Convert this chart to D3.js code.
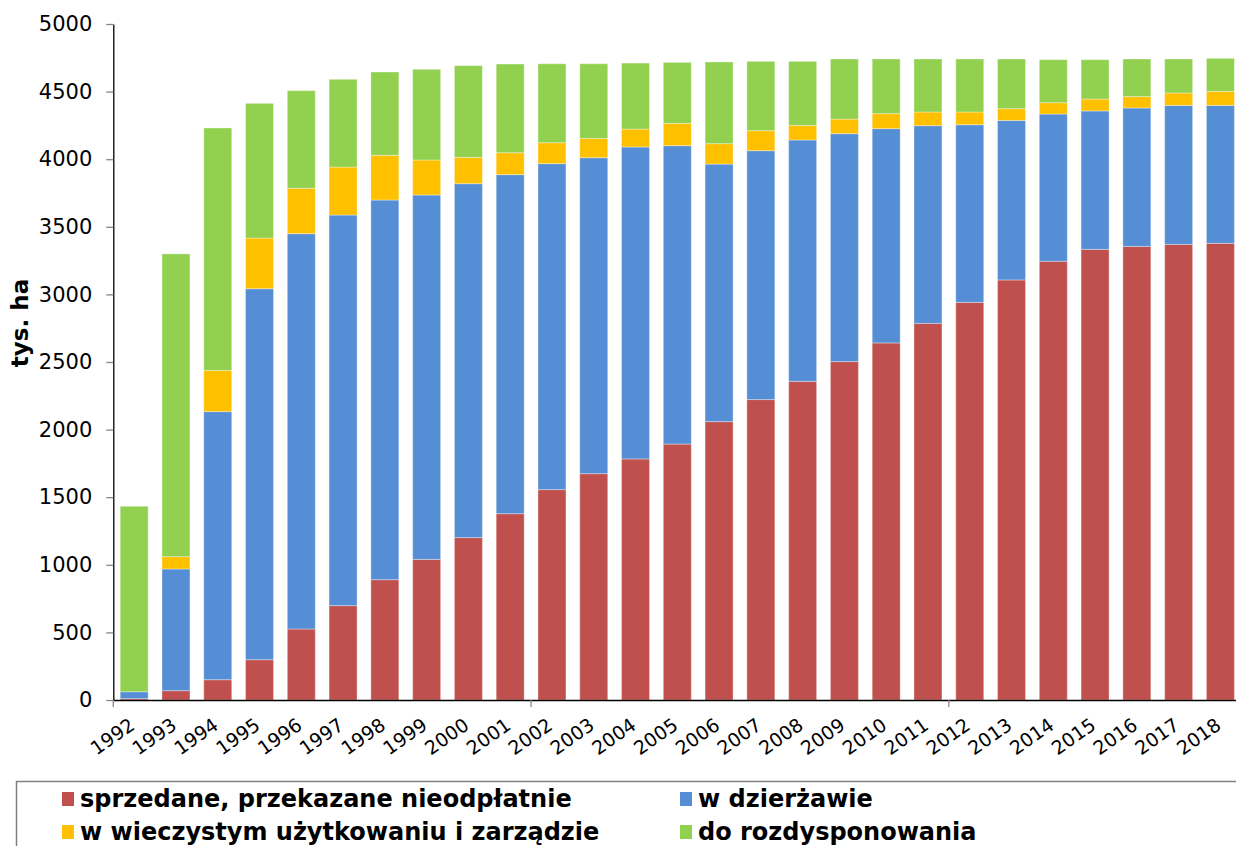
<!DOCTYPE html>
<html>
<head>
<meta charset="utf-8">
<script src="https://cdn.jsdelivr.net/npm/d3@7"></script>
<style>
    body { margin: 0; background: #fff; }
    svg { display: block; font-family: "DejaVu Sans", Verdana, sans-serif; }
</style>
</head>
<body>
<div id="chart"></div>
<script>
// dane (tys. ha)
const years = ["1992", "1993", "1994", "1995", "1996", "1997", "1998", "1999", "2000", "2001", "2002", "2003", "2004",
    "2005", "2006", "2007", "2008", "2009", "2010", "2011", "2012", "2013", "2014", "2015", "2016", "2017", "2018"];
const sold = [10, 69, 150, 298, 525, 698, 890, 1040, 1201, 1378, 1556, 1674, 1783, 1893, 2059, 2222, 2357, 2503, 2641,
    2786, 2941, 3107, 3245, 3333, 3355, 3370, 3378];
const lease = [51, 900, 1983, 2744, 2924, 2889, 2808, 2695, 2618, 2508, 2411, 2337, 2307, 2207, 1905, 1841, 1785, 1686,
    1585, 1462, 1314, 1180, 1089, 1024, 1024, 1028, 1020];
const perpetual = [0, 91, 305, 375, 336, 355, 331, 259, 195, 162, 155, 143, 133, 165, 151, 148, 108, 108, 111, 101, 94,
    87, 84, 88, 84, 92, 104];
const toDispose = [1372, 2240, 1793, 996, 722, 649, 616, 671, 678, 656, 584, 552, 488, 451, 604, 513, 474, 444, 404, 392,
    392, 367, 318, 291, 278, 251, 244];
const seriesNames = ["sprzedane, przekazane nieodpłatnie", "w dzierżawie", "w wieczystym użytkowaniu i zarządzie", "do rozdysponowania"];
const yTicks = [0, 500, 1000, 1500, 2000, 2500, 3000, 3500, 4000, 4500, 5000];
const yTitle = "tys. ha";

var width = 1236;
var height = 846;
const colors = ["#C0504D", "#558ED5", "#FFC000", "#92D050"];
const keys = ["sold", "lease", "perpetual", "toDispose"];

const table = years.map(function (y, i) {
    return { year: y, sold: sold[i], lease: lease[i], perpetual: perpetual[i], toDispose: toDispose[i] };
});

const svg = d3.select("#chart")
    .append("svg")
    .attr("width", width)
    .attr("height", height)
    .style("background-color", "rgb(255,255,255)");

const x = d3.scaleBand()
    .domain(years)
    .range([113.3, 1241.3])
    .paddingInner(0.33)
    .paddingOuter(0.165);

const y = d3.scaleLinear()
    .domain([0, 5000])
    .range([700, 24]);

const stacked = d3.stack().keys(keys)(table);

// słupki
svg.selectAll("g.layer")
    .data(stacked)
    .enter()
    .append("g")
    .attr("class", "layer")
    .attr("fill", function (d, i) { return colors[i]; })
    .selectAll("rect")
    .data(function (d) { return d; })
    .enter()
    .append("rect")
    .attr("x", function (d) { return x(d.data.year); })
    .attr("y", function (d) { return y(d[1]); })
    .attr("width", x.bandwidth())
    .attr("height", function (d) { return y(d[0]) - y(d[1]); })
    .attr("stroke", "rgba(255,255,255,0.35)")
    .attr("stroke-width", 1);

// oś Y
const yAxis = svg.append("g")
    .attr("transform", "translate(113.3,0)")
    .call(d3.axisLeft(y).tickValues(yTicks).tickFormat(d3.format("d")).tickSize(7).tickPadding(14).tickSizeOuter(0));
yAxis.select(".domain").attr("stroke", "#000").attr("stroke-width", 1.3);
yAxis.selectAll(".tick line").attr("stroke", "#868686").attr("stroke-width", 1.3);
yAxis.selectAll(".tick text")
    .attr("fill", "#000")
    .style("font-size", "21px")
    .style("font-family", "DejaVu Sans");

// oś X
const xAxis = svg.append("g")
    .attr("transform", "translate(0,700)")
    .call(d3.axisBottom(x).tickSize(0).tickSizeOuter(0).tickFormat(""));
xAxis.select(".domain").attr("stroke", "#000").attr("stroke-width", 1.3);

// znaczniki co 10 kategorii
const step = x.step();
svg.selectAll("line.xtick")
    .data([0, 10, 20])
    .enter()
    .append("line")
    .attr("class", "xtick")
    .attr("x1", function (d) { return x(years[d]) - step * 0.165; })
    .attr("x2", function (d) { return x(years[d]) - step * 0.165; })
    .attr("y1", 700)
    .attr("y2", 707)
    .attr("stroke", "#868686")
    .attr("stroke-width", 1.3);

// etykiety lat
svg.selectAll("text.year")
    .data(years)
    .enter()
    .append("text")
    .attr("class", "year")
    .text(function (d) { return d; })
    .attr("text-anchor", "end")
    .attr("transform", function (d) { return "translate(" + (x(d) + x.bandwidth() / 2 + 2) + ",728) rotate(-35)"; })
    .attr("fill", "#000")
    .style("font-size", "19px");

// tytuł osi Y
svg.append("text")
    .text(yTitle)
    .attr("text-anchor", "middle")
    .attr("transform", "translate(28,323) rotate(-90)")
    .attr("fill", "#000")
    .style("font-size", "23px")
    .style("font-weight", "bold");

// legenda
svg.append("path")
    .attr("d", "M16.5,846 V781.5 H1236")
    .attr("fill", "none")
    .attr("stroke", "#7f7f7f")
    .attr("stroke-width", 1.5);

const legendPos = [[62, 807], [680, 807], [62, 840], [680, 840]];
const leg = svg.selectAll("g.legend")
    .data(seriesNames)
    .enter()
    .append("g")
    .attr("class", "legend")
    .attr("transform", function (d, i) { return "translate(" + legendPos[i][0] + "," + legendPos[i][1] + ")"; });
leg.append("rect")
    .attr("x", 0)
    .attr("y", -15)
    .attr("width", 12)
    .attr("height", 14)
    .attr("fill", function (d, i) { return colors[i]; });
leg.append("text")
    .text(function (d) { return d; })
    .attr("x", 18)
    .attr("y", 0)
    .attr("fill", "#000")
    .style("font-size", "24px")
    .style("font-weight", "bold");
</script>
</body>
</html>
